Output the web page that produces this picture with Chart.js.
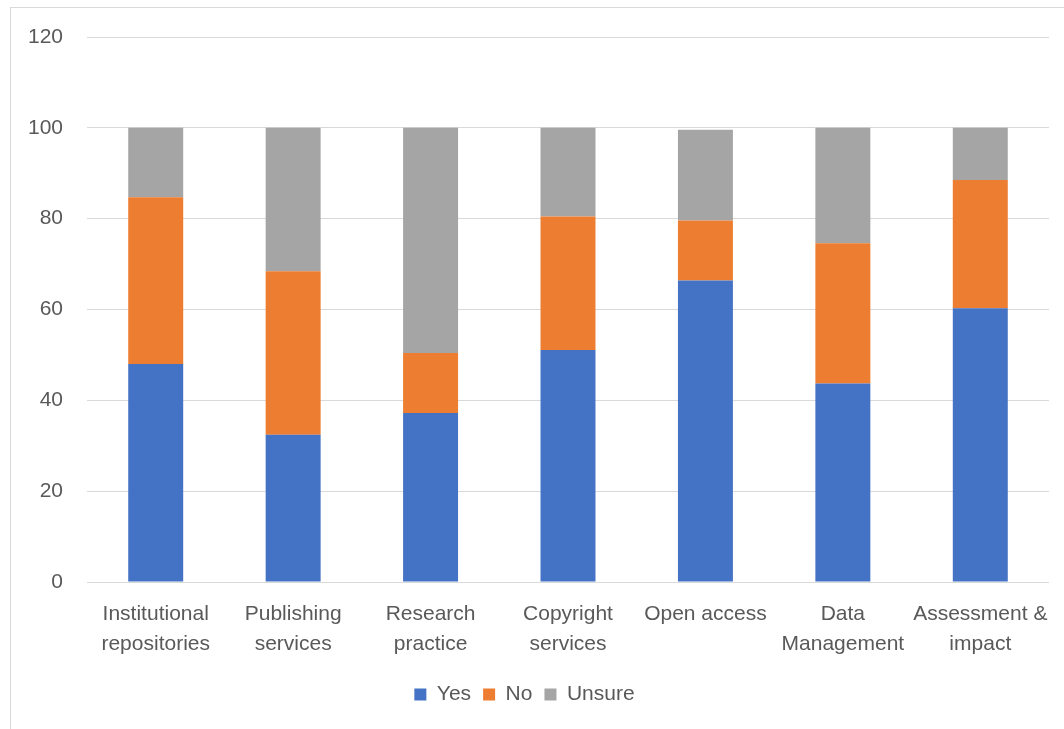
<!DOCTYPE html>
<html>
<head>
<meta charset="utf-8">
<script src="https://cdn.jsdelivr.net/npm/chart.js@4/dist/chart.umd.min.js"></script>
<style>
  html, body { margin: 0; padding: 0; background: #fff; }
  #frame { position: absolute; left: 10px; top: 7px; width: 1060px; height: 730px; border: 1px solid #d9d9d9; box-sizing: border-box; }
  #wrap { position: absolute; left: 0; top: 0; width: 1064px; height: 729px; }
</style>
</head>
<body>
<div id="frame"></div>
<div id="wrap"><canvas id="c" width="1064" height="729"></canvas></div>
<script>
const categories = [
  ["Institutional", "repositories"],
  ["Publishing", "services"],
  ["Research", "practice"],
  ["Copyright", "services"],
  "Open access",
  ["Data", "Management"],
  ["Assessment &", "impact"]
];
const yesValues = [48.0, 32.4, 37.2, 51.1, 66.4, 43.7, 60.3];
const noValues = [36.7, 36.0, 13.2, 29.4, 13.2, 30.9, 28.2];
const unsureValues = [15.3, 31.6, 49.6, 19.5, 20.0, 25.4, 11.5];
const yTicks = [0, 20, 40, 60, 80, 100, 120];

const FONT = "'Liberation Sans', Arial, sans-serif";
const TXT = '#595959';

new Chart(document.getElementById('c'), {
  type: 'bar',
  data: {
    labels: categories,
    datasets: [
      { label: 'Yes', data: yesValues, backgroundColor: '#4472C4' },
      { label: 'No', data: noValues, backgroundColor: '#ED7D31' },
      { label: 'Unsure', data: unsureValues, backgroundColor: '#A5A5A5' }
    ]
  },
  options: {
    responsive: false,
    animation: false,
    datasets: { bar: { categoryPercentage: 1.0, barPercentage: 0.4, borderWidth: 0 } },
    layout: { padding: { left: 0, right: 15, top: 37, bottom: 14 } },
    plugins: {
      tooltip: { enabled: false },
      legend: {
        position: 'bottom',
        labels: {
          boxWidth: 12, boxHeight: 12, padding: 12,
          color: TXT,
          font: { family: FONT, size: 21 }
        }
      }
    },
    scales: {
      x: {
        stacked: true,
        grid: { display: false },
        border: { display: false },
        ticks: {
          color: TXT, maxRotation: 0, autoSkip: false, padding: 10,
          font: { family: FONT, size: 21, lineHeight: 1.4 }
        },
        afterFit: s => { s.height = 90; }
      },
      y: {
        stacked: true,
        min: 0, max: 120,
        afterBuildTicks: s => { s.ticks = yTicks.map(v => ({ value: v })); },
        grid: { color: '#d9d9d9', lineWidth: 1, drawTicks: false },
        border: { display: false },
        ticks: {
          color: TXT, padding: 24,
          font: { family: FONT, size: 21 }
        },
        afterFit: s => { s.width = 87; }
      }
    }
  }
});
</script>
</body>
</html>
